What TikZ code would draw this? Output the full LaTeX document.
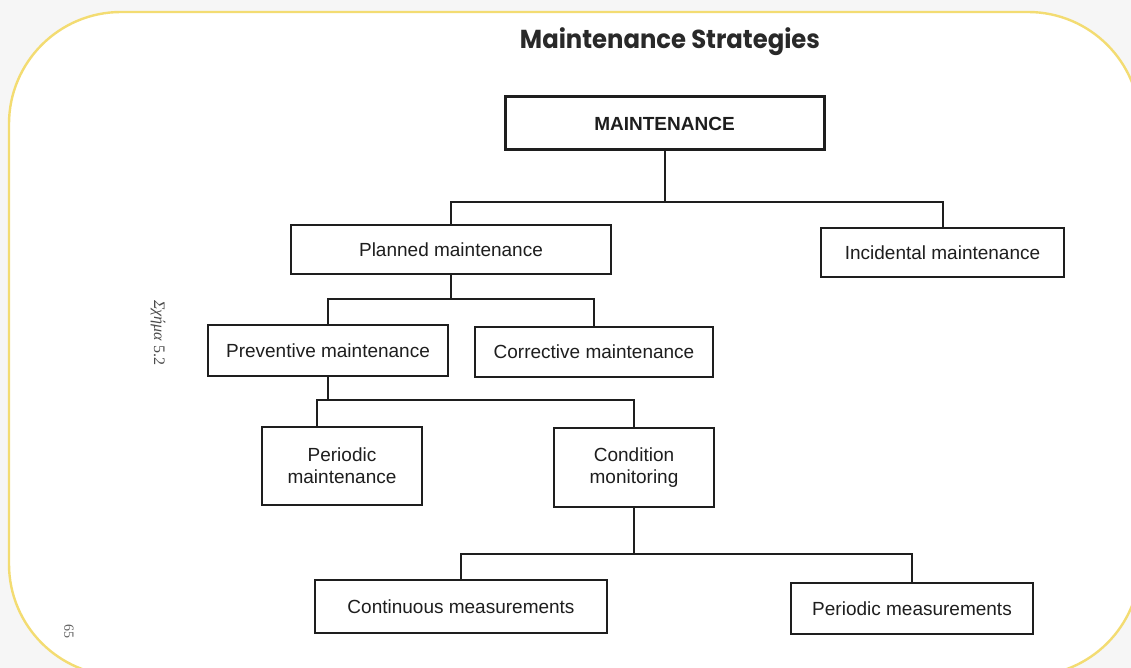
\documentclass[tikz,border=0pt]{standalone}
\usepackage{fontspec}
\usepackage{graphicx}
\setmainfont{Liberation Sans}
\newfontfamily\titlefont{Poppins}
\newfontfamily\captionfont{Liberation Serif}
\definecolor{ink}{HTML}{1E1E1E}
\definecolor{frame}{HTML}{F3DC72}
\definecolor{paper}{HTML}{F6F6F6}
\begin{document}
\begin{tikzpicture}[x=1pt,y=-1pt,
  box/.style={draw=ink, line width=1.7pt, fill=white, inner sep=0pt,
    font=\fontsize{19}{22}\selectfont, text=ink, align=center},
  conn/.style={draw=ink, line width=2pt}]
\useasboundingbox (0,0) rectangle (1131,668);
\fill[paper] (0,0) rectangle (1131,668);
% rounded page frame, partly running off the right and bottom edges
\begin{scope}
  \clip (0,0) rectangle (1131,668);
  \draw[frame, line width=2.4pt, fill=white, rounded corners=112pt] (9,12) rectangle (1140,676);
\end{scope}

% heading
\node[anchor=base, inner sep=0pt, text=ink!95] (title) at (670,49)
  {\resizebox{300pt}{\height}{\titlefont\bfseries\fontsize{26}{30}\selectfont Maintenance Strategies}};

% tree of strategies
\node[box, line width=3pt, minimum width=319pt, minimum height=53pt,
      font=\fontsize{19}{22}\selectfont\bfseries] (top) at (664.5,123.5) {MAINTENANCE};
\node[box, minimum width=320pt, minimum height=49pt] (planned) at (451,249.5) {Planned maintenance};
\node[box, minimum width=243pt, minimum height=49pt] (incidental) at (942.5,252.5) {Incidental maintenance};
\node[box, minimum width=240pt, minimum height=51pt] (preventive) at (328,350.5) {Preventive maintenance};
\node[box, minimum width=238pt, minimum height=50pt] (corrective) at (594,352) {Corrective maintenance};
\node[box, minimum width=160pt, minimum height=78pt] (periodic) at (342,466) {Periodic\\maintenance};
\node[box, minimum width=160pt, minimum height=79pt] (condition) at (634,467.5) {Condition\\monitoring};
\node[box, minimum width=292pt, minimum height=53pt] (continuous) at (461,606.5) {Continuous measurements};
\node[box, minimum width=242pt, minimum height=51pt] (periodicm) at (912,608.5) {Periodic measurements};

% connectors
\draw[conn] (top.south) -- ++(0,50.5) coordinate (bus1);
\draw[conn] (planned.north) |- (bus1) -| (incidental.north);
\draw[conn] (planned.south) -- ++(0,24) coordinate (bus2);
\draw[conn] (preventive.north) |- (bus2) -| (corrective.north);
\draw[conn] (preventive.south) -- ++(0,23) coordinate (bus3);
\draw[conn] ([xshift=-25pt]periodic.north) |- (bus3) -| (condition.north);
\draw[conn] (condition.south) -- ++(0,46) coordinate (bus4);
\draw[conn] (continuous.north) |- (bus4) -| (periodicm.north);

% marginal notes of the printed page
\node[rotate=-90, text=ink!80] (fig) at (158,333)
  {\captionfont\fontsize{16}{18}\selectfont\itshape Σχήμα\/ \upshape 5.2};
\node[rotate=-90, text=ink!70] (page) at (69,631)
  {\captionfont\fontsize{14}{16}\selectfont 65};
\end{tikzpicture}
\end{document}
